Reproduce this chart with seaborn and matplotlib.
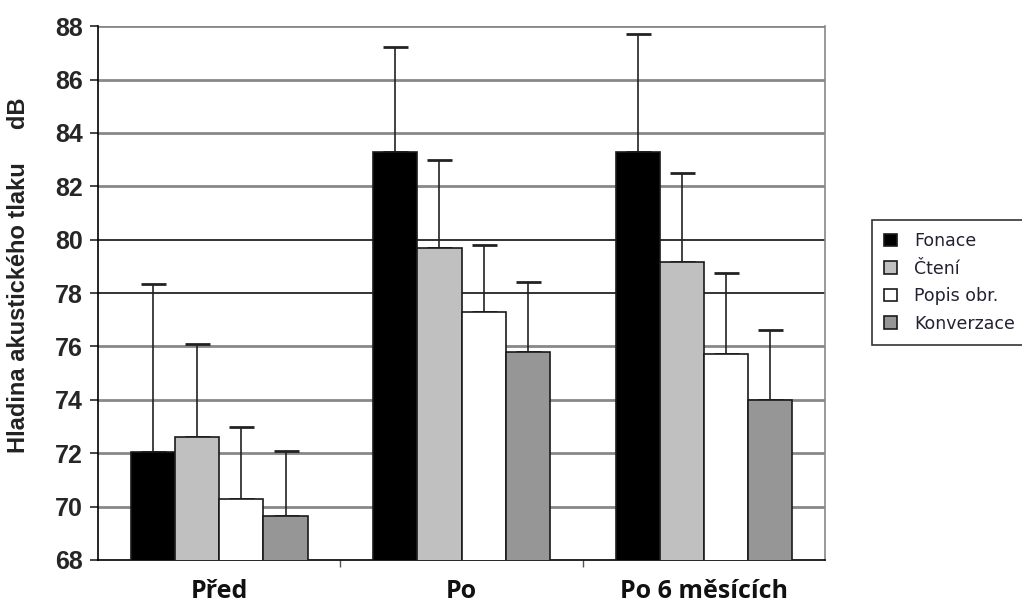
import pandas as pd
import seaborn as sns
import matplotlib.pyplot as plt

# data
groups = ['Před', 'Po', 'Po 6 měsících']
series = ['Fonace', 'Čtení', 'Popis obr.', 'Konverzace']
fonace = [72.05, 83.3, 83.3]
cteni = [72.6, 79.7, 79.15]
popis = [70.3, 77.3, 75.7]
konverzace = [69.65, 75.8, 74.0]
fonace_top = [78.35, 87.2, 87.7]
cteni_top = [76.1, 83.0, 82.5]
popis_top = [73.0, 79.8, 78.75]
konverzace_top = [72.1, 78.4, 76.6]
colors = ['#000000', '#c0c0c0', '#ffffff', '#969696']

rows = []
for s, vals, tops in zip(series, [fonace, cteni, popis, konverzace],
                         [fonace_top, cteni_top, popis_top, konverzace_top]):
    for g, v, t in zip(groups, vals, tops):
        rows.append({'skupina': g, 'serie': s, 'hodnota': v, 'horni': t})
df = pd.DataFrame(rows)

sns.set_style('white')
plt.rcParams['font.family'] = ['Liberation Sans', 'DejaVu Sans']

fig = plt.figure(figsize=(10.22, 6.08), dpi=100)
ax = fig.add_axes([0.0959, 0.079, 0.7115, 0.878])

sns.barplot(data=df, x='skupina', y='hodnota', hue='serie', order=groups,
            hue_order=series, palette=colors, width=0.73, errorbar=None,
            edgecolor='#1a1a1a', linewidth=1.2, saturation=1, ax=ax, zorder=3)

# upward-only error bars on each bar
for cont, s in zip(ax.containers, series):
    sub = df[df['serie'] == s].set_index('skupina').loc[groups]
    for patch, v, t in zip(cont.patches, sub['hodnota'], sub['horni']):
        xc = patch.get_x() + patch.get_width() / 2
        ax.errorbar(xc, v, yerr=[[0], [t - v]], color='#222222', lw=1.2,
                    capsize=9, capthick=2, zorder=2)

ax.set_ylim(68, 88)
ax.set_xlim(-0.5, 2.5)
ax.set_yticks(range(68, 89, 2))

# gridlines
for yv in range(70, 89, 2):
    if yv in (78, 80):
        ax.axhline(yv, color='#111111', lw=1.2, zorder=1)
    else:
        ax.axhline(yv, color='#888888', lw=2, zorder=1)

ax.spines['left'].set_color('black')
ax.spines['bottom'].set_color('black')
ax.spines['right'].set_color('#888888')
ax.spines['top'].set_visible(False)
for sp in ax.spines.values():
    sp.set_linewidth(1.2)

ax.tick_params(axis='y', left=True, length=6, width=1.2, direction='out',
               labelsize=18, pad=5)
ax.set_yticklabels([str(v) for v in range(68, 89, 2)], fontweight='bold')
ax.tick_params(axis='x', bottom=False, labelsize=18, pad=10)
ax.set_xticks([0.5, 1.5], minor=True)
ax.tick_params(axis='x', which='minor', bottom=True, length=5, width=1,
               direction='out', color='#555555')
ax.set_xticklabels(groups, fontweight='bold', family=['Open Sans', 'DejaVu Sans'],
                   color='#111111')
ax.set_xlabel('')
ax.set_ylabel('Hladina akustického tlaku     dB', fontsize=17, fontweight='bold',
              color='#222222')
ax.yaxis.set_label_coords(-0.094, 0.533)

leg = ax.legend(loc='upper left', bbox_to_anchor=(1.064, 0.637), frameon=True,
                fancybox=False, edgecolor='black', fontsize=12.5,
                handlelength=0.75, handleheight=0.75, labelspacing=0.55,
                borderpad=0.7, handletextpad=1.0, borderaxespad=0)
leg.get_frame().set_linewidth(1.2)
for t in leg.get_texts():
    t.set_family(['DejaVu Sans'])
    t.set_color('#222233')

fig.savefig('out.png', dpi=100)
